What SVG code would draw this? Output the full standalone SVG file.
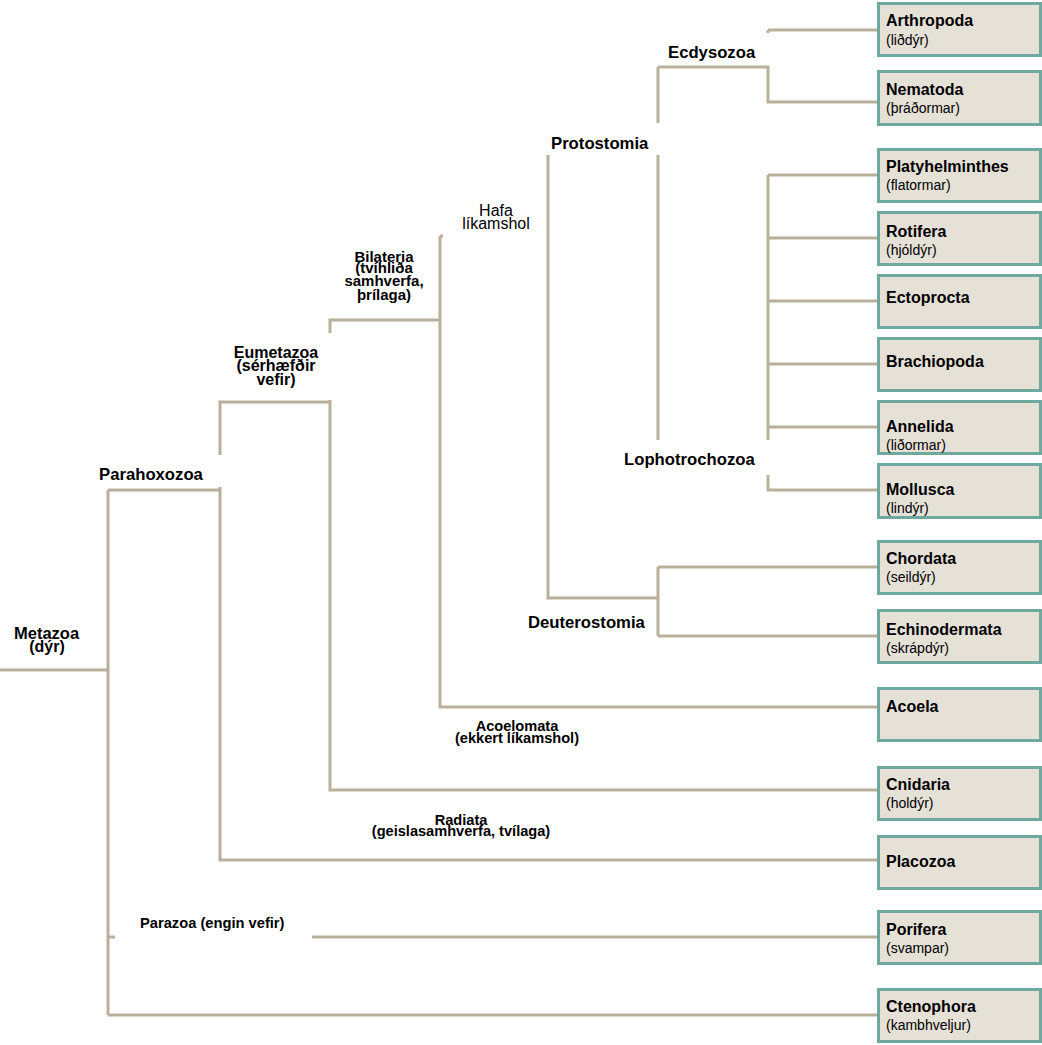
<svg xmlns="http://www.w3.org/2000/svg" width="1042" height="1045" viewBox="0 0 1042 1045">
<style>
.ln{fill:none;stroke:#bab09a;stroke-width:3}
.box{fill:#e5e1d7;stroke:#6ea89f;stroke-width:3}
.t{font-family:"Liberation Sans",Arial,sans-serif;font-weight:bold;font-size:16px;fill:#000}
.s{font-family:"Liberation Sans",Arial,sans-serif;font-size:14px;fill:#000}
.c{font-family:"Liberation Sans",Arial,sans-serif;font-weight:bold;font-size:16.7px;fill:#000}
.cs{font-family:"Liberation Sans",Arial,sans-serif;font-weight:bold;font-size:14.6px;fill:#000;text-anchor:middle}
.n{font-family:"Liberation Sans",Arial,sans-serif;font-size:16px;fill:#000;text-anchor:middle}
</style>
<rect width="1042" height="1045" fill="#fff"/>
<g id="connectors">
<path class="ln" d="M0,670H108M108,490V1015"/>
<path class="ln" d="M108,490H220V487M220,455V402H330V400M220,487V860H878M330,400V790H878"/>
<path class="ln" d="M330,333V320H440M440,236V707H878M440,236H443"/>
<path class="ln" d="M108,1015H878M108,937H115M312,937H878"/>
<path class="ln" d="M548,155V598H658M658,567V636M658,567H878M658,636H878"/>
<path class="ln" d="M658,67H768V102H878M768,30V33M768,30H878"/>
<path class="ln" d="M658,67V123M658,155V440"/>
<path class="ln" d="M768,175V440M768,475V490H878M768,175H878M768,238H878M768,301H878M768,364H878M768,427H878"/>
</g>
<g id="clade-labels">
<text class="c" x="14" y="639" style="font-size:16.5px">Metazoa</text>
<text class="cs" x="47" y="652" style="font-size:16px">(dýr)</text>
<text class="c" x="99" y="480">Parahoxozoa</text>
<text x="276" y="358" class="cs" style="font-size:16px">Eumetazoa</text>
<text x="276" y="371" class="cs" style="font-size:16px">(sérhæfðir</text>
<text x="276" y="385" class="cs" style="font-size:16px">vefir)</text>
<text class="cs" x="384" y="262" style="font-size:15px">Bilateria</text>
<text class="cs" x="384" y="273" style="font-size:15px">(tvíhliða</text>
<text class="cs" x="384" y="286" style="font-size:15px">samhverfa,</text>
<text class="cs" x="384" y="300" style="font-size:15px">þrílaga)</text>
<text class="n" x="496" y="216">Hafa</text>
<text class="n" x="496" y="229">líkamshol</text>
<text class="c" x="551" y="149">Protostomia</text>
<text class="c" x="668" y="58">Ecdysozoa</text>
<text class="c" x="624" y="465">Lophotrochozoa</text>
<text class="c" x="528" y="628">Deuterostomia</text>
<text class="cs" x="517" y="731">Acoelomata</text>
<text class="cs" x="517" y="743">(ekkert líkamshol)</text>
<text class="cs" x="461" y="825">Radiata</text>
<text class="cs" x="461" y="836">(geislasamhverfa, tvílaga)</text>
<text class="c" x="140" y="928" style="font-size:14.7px">Parazoa (engin vefir)</text>
</g>
<g id="arthropoda"><rect class="box" x="878.5" y="3.5" width="162" height="52"/><text class="t" x="886" y="26">Arthropoda</text><text class="s" x="886" y="45">(liðdýr)</text></g>
<g id="nematoda"><rect class="box" x="878.5" y="71.5" width="162" height="53"/><text class="t" x="886" y="95">Nematoda</text><text class="s" x="886" y="113">(þráðormar)</text></g>
<g id="platyhelminthes"><rect class="box" x="878.5" y="149.5" width="162" height="52"/><text class="t" x="886" y="172">Platyhelminthes</text><text class="s" x="886" y="190">(flatormar)</text></g>
<g id="rotifera"><rect class="box" x="878.5" y="212.5" width="162" height="52"/><text class="t" x="886" y="237">Rotifera</text><text class="s" x="886" y="255">(hjóldýr)</text></g>
<g id="ectoprocta"><rect class="box" x="878.5" y="275.5" width="162" height="52"/><text class="t" x="886" y="303">Ectoprocta</text></g>
<g id="brachiopoda"><rect class="box" x="878.5" y="338.5" width="162" height="52"/><text class="t" x="886" y="367">Brachiopoda</text></g>
<g id="annelida"><rect class="box" x="878.5" y="401.5" width="162" height="52"/><text class="t" x="886" y="432">Annelida</text><text class="s" x="886" y="450">(liðormar)</text></g>
<g id="mollusca"><rect class="box" x="878.5" y="464.5" width="162" height="53"/><text class="t" x="886" y="495">Mollusca</text><text class="s" x="886" y="513">(lindýr)</text></g>
<g id="chordata"><rect class="box" x="878.5" y="541.5" width="162" height="52"/><text class="t" x="886" y="564">Chordata</text><text class="s" x="886" y="582">(seildýr)</text></g>
<g id="echinodermata"><rect class="box" x="878.5" y="610.5" width="162" height="52"/><text class="t" x="886" y="635">Echinodermata</text><text class="s" x="886" y="653">(skrápdýr)</text></g>
<g id="acoela"><rect class="box" x="878.5" y="688.5" width="162" height="52"/><text class="t" x="886" y="712">Acoela</text></g>
<g id="cnidaria"><rect class="box" x="878.5" y="767.5" width="162" height="52"/><text class="t" x="886" y="790">Cnidaria</text><text class="s" x="886" y="808">(holdýr)</text></g>
<g id="placozoa"><rect class="box" x="878.5" y="836.5" width="162" height="52"/><text class="t" x="886" y="867">Placozoa</text></g>
<g id="porifera"><rect class="box" x="878.5" y="911.5" width="162" height="52"/><text class="t" x="886" y="935">Porifera</text><text class="s" x="886" y="953">(svampar)</text></g>
<g id="ctenophora"><rect class="box" x="878.5" y="989.5" width="162" height="52"/><text class="t" x="886" y="1012">Ctenophora</text><text class="s" x="886" y="1030">(kambhveljur)</text></g>
</svg>
